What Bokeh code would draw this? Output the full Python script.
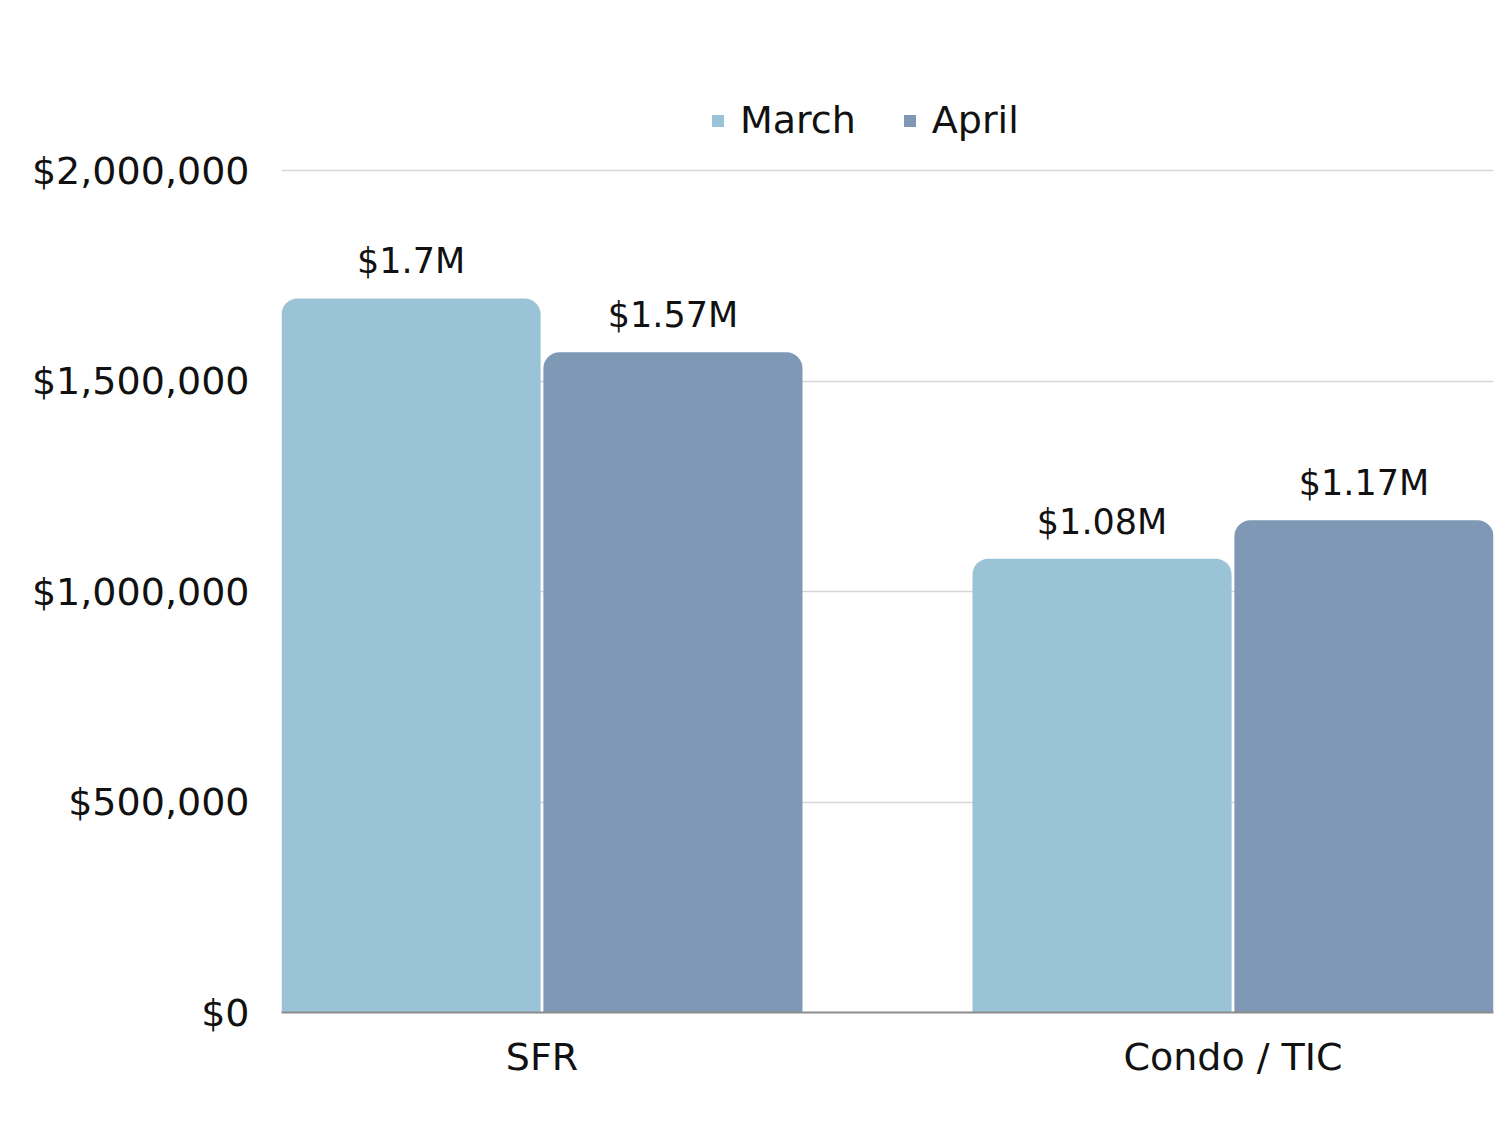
import numpy as np
from bokeh.plotting import figure
from bokeh.models import (ColumnDataSource, FixedTicker, NumeralTickFormatter,
                          Legend, LegendItem, LabelSet, Range1d)
from bokeh.transform import dodge
from bokeh.core.properties import value
from bokeh.embed import file_html
from bokeh.resources import INLINE

categories = ["SFR", "Condo / TIC"]
march = [1696000, 1078000]
april = [1568000, 1169000]
march_labels = ["$1.7M", "$1.08M"]
april_labels = ["$1.57M", "$1.17M"]
y_ticks = [0, 500000, 1000000, 1500000, 2000000]

FONT = "DejaVu Sans"
C_MARCH = "#9BC3D8"
C_APRIL = "#7F98B5"

xpos = list(range(len(categories)))
src = ColumnDataSource(dict(x=xpos, march=march, april=april,
                            ml=march_labels, al=april_labels))

# frame extends above the top tick so the legend can sit inside it
TOP_PAD_PX = 110
PLOT_PX = 842
y_end = 2000000 * (1 + TOP_PAD_PX / PLOT_PX)

bw = 0.375
off = 0.1895
p = figure(width=1494, height=1109, output_backend="svg", toolbar_location=None,
           x_range=Range1d(-0.377, 1.377), y_range=Range1d(0, y_end),
           min_border_left=281, min_border_right=1, min_border_top=170 - TOP_PAD_PX,
           min_border_bottom=97)
p.outline_line_color = None
p.background_fill_color = "white"

r1 = p.vbar(x=dodge("x", -off, range=p.x_range), top="march", width=bw, source=src,
            fill_color=C_MARCH, line_color=None, border_radius=(16, 16, 0, 0))
r2 = p.vbar(x=dodge("x", off, range=p.x_range), top="april", width=bw, source=src,
            fill_color=C_APRIL, line_color=None, border_radius=(16, 16, 0, 0))

for col, lab, d in (("march", "ml", -off), ("april", "al", off)):
    ls = LabelSet(x=dodge("x", d, range=p.x_range), y=col, text=lab, source=src,
                  text_align="center", text_baseline="bottom", y_offset=17,
                  text_font=value(FONT), text_font_size="35px", text_color="#111111")
    p.add_layout(ls)

# legend proxies (no data drawn)
q1 = p.quad(left=[np.nan], right=[np.nan], top=[np.nan], bottom=[np.nan],
            fill_color=C_MARCH, line_color=None)
q2 = p.quad(left=[np.nan], right=[np.nan], top=[np.nan], bottom=[np.nan],
            fill_color=C_APRIL, line_color=None)
legend = Legend(items=[LegendItem(label="March", renderers=[q1]),
                       LegendItem(label="April", renderers=[q2])],
                orientation="horizontal", location=(429, 870),
                label_text_font=FONT, label_text_font_size="38px",
                label_text_color="#111111", glyph_width=15, glyph_height=15,
                label_standoff=15, spacing=46, padding=0, margin=0,
                border_line_color=None, background_fill_alpha=0)
p.add_layout(legend, "center")

p.xaxis.ticker = FixedTicker(ticks=xpos)
p.xaxis.major_label_overrides = {i: c for i, c in enumerate(categories)}
p.xaxis.major_tick_line_color = None
p.xaxis.minor_tick_line_color = None
p.xaxis.axis_line_color = "#8c8c8c"
p.xaxis.axis_line_width = 2
p.xaxis.major_label_text_font = FONT
p.xaxis.major_label_text_font_size = "38px"
p.xaxis.major_label_text_color = "#111111"
p.xaxis.major_label_standoff = 16

p.yaxis.ticker = FixedTicker(ticks=y_ticks)
p.yaxis.formatter = NumeralTickFormatter(format="$0,0")
p.yaxis.axis_line_color = None
p.yaxis.major_tick_line_color = None
p.yaxis.minor_tick_line_color = None
p.yaxis.major_label_text_font = FONT
p.yaxis.major_label_text_font_size = "38px"
p.yaxis.major_label_text_color = "#111111"
p.yaxis.major_label_standoff = 26

p.xgrid.grid_line_color = None
p.ygrid.grid_line_color = "#d6d6d6"
p.ygrid.grid_line_width = 1.5

open("out.html", "w").write(file_html(p, INLINE))
